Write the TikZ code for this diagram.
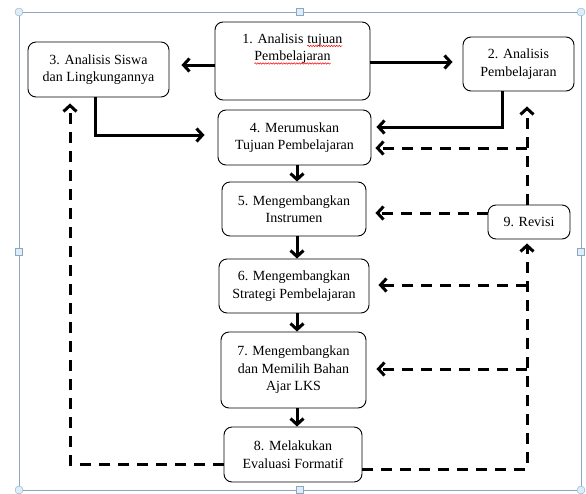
\documentclass[tikz,border=0pt]{standalone}
\usepackage{fontspec}
\setmainfont{Liberation Serif}
\usepackage{tikz}
\usetikzlibrary{arrows.meta}
\usetikzlibrary{positioning}
\usetikzlibrary{decorations.pathmorphing}
\definecolor{framec}{HTML}{8EA6C4}
\definecolor{handlec}{HTML}{DCEFF8}
\newcommand\spellerr[1]{\tikz[baseline = (sw.base)]{\node [inner sep = 0, outer sep = 0] (sw) {#1};
  \draw [red, line width = 0.5pt, decorate, decoration = {snake, amplitude = 0.7pt, segment length = 2.6pt}]
    ([yshift = -2.5pt]sw.base west) -- ([yshift = -2.5pt]sw.base east);}}
\tikzset{box/.style = {draw, rounded corners = 8pt, line width = 0.9pt, align = center,
                       font = \fontsize{14}{17.5}\selectfont}}
\tikzset{txt/.style = {align = center, inner sep = 0, font = \fontsize{14}{17.5}\selectfont}}
\tikzset{arr/.style = {line width = 3pt, -{Straight Barb[length = 6pt, width = 13pt]}}}
\tikzset{darr/.style = {arr, dash pattern = on 11pt off 8pt}}
\tikzset{hcirc/.style = {draw = framec, fill = handlec, circle, inner sep = 0, minimum size = 8pt}}
\tikzset{hsq/.style = {draw = framec, fill = handlec, rectangle, inner sep = 0, minimum size = 7pt}}

\begin{document}
\begin{tikzpicture}[x = 1pt, y = -1pt]
      \useasboundingbox (0, 0) rectangle (586, 493);

      % selection frame
      \draw [framec, line width = 0.8pt] (19, 12) rectangle (581, 490);
      \node [hcirc] (h1) at (19, 12) {};
      \node [hcirc] (h2) at (581, 12) {};
      \node [hcirc] (h3) at (19, 490) {};
      \node [hcirc] (h4) at (581, 490) {};
      \node [hsq] (h5) at (300, 12) {};
      \node [hsq] (h6) at (300, 490) {};
      \node [hsq] (h7) at (19, 252) {};
      \node [hsq] (h8) at (581, 252) {};

      \node [box, minimum width = 155, minimum height = 78] (b1) at (292.5, 61) {};
      \node [txt, below = 12pt of b1.north] (b1t) {1. Analisis \spellerr{tujuan}\\ \spellerr{Pembelajaran}};
      \node [box, minimum width = 141, minimum height = 55] (b3) at (98.5, 69.5) {3. Analisis Siswa\\ dan Lingkungannya};
      \node [box, minimum width = 111, minimum height = 54] (b2) at (518.5, 64) {2. Analisis\\ Pembelajaran};
      \node [box, minimum width = 153, minimum height = 55] (b4) at (294.5, 137.5) {4. Merumuskan\\ Tujuan Pembelajaran};
      \node [box, minimum width = 144, minimum height = 54] (b5) at (294, 209) {5. Mengembangkan\\ Instrumen};
      \node [box, minimum width = 150, minimum height = 54] (b6) at (294, 286) {6. Mengembangkan\\ Strategi Pembelajaran};
      \node [box, minimum width = 145, minimum height = 76] (b7) at (293.5, 370) {7. Mengembangkan\\ dan Memilih Bahan\\ Ajar LKS};
      \node [box, minimum width = 138, minimum height = 55] (b8) at (293, 454.5) {8. Melakukan\\ Evaluasi Formatif};
      \node [box, minimum width = 82, minimum height = 34] (b9) at (529, 222) {9. Revisi};

      \coordinate (j4) at (527, 148);
      \coordinate (j6) at (527, 285);
      \coordinate (j7) at (527, 369);

      \draw [arr, shorten > = 12pt] (b1.west |- 0, 65) -- (b3.east |- 0, 65);
      \draw [arr, shorten > = 10pt] (b1.east |- 0, 62) -- (b2.west |- 0, 62);
      \draw [arr, shorten > = 13pt] (b3.south -| 95, 0) |- (b4.west |- 0, 135);
      \draw [arr, shorten > = 5pt] (b2.south -| 502, 0) |- (b4.east |- 0, 127);

      \draw [arr] (b4.south -| 297, 0) -- (b5.north -| 297, 0);
      \draw [arr] (b5.south -| 297, 0) -- (b6.north -| 297, 0);
      \draw [arr] (b6.south -| 297, 0) -- (b7.north -| 297, 0);
      \draw [arr] (b7.south -| 297, 0) -- (b8.north -| 297, 0);

      \draw [darr, shorten > = 15pt] (b9.north -| 527, 0) -- (b2.south -| 527, 0);
      \draw [darr, shorten > = 4pt] (j4) -- (b4.east |- j4);
      \draw [darr, shorten > = 9pt] (b9.west |- 0, 213) -- (b5.east |- 0, 213);
      \draw [darr, shorten > = 4pt] (b8.east |- 0, 469) -| (b9.south -| 527, 0);
      \draw [darr, shorten > = 9pt] (j6) -- (b6.east |- j6);
      \draw [darr, shorten > = 10pt] (j7) -- (b7.east |- j7);
      \draw [darr, shorten > = 6pt] (b8.west |- 0, 464) -| (b3.south -| 70, 0);
    \end{tikzpicture}
\end{document}
